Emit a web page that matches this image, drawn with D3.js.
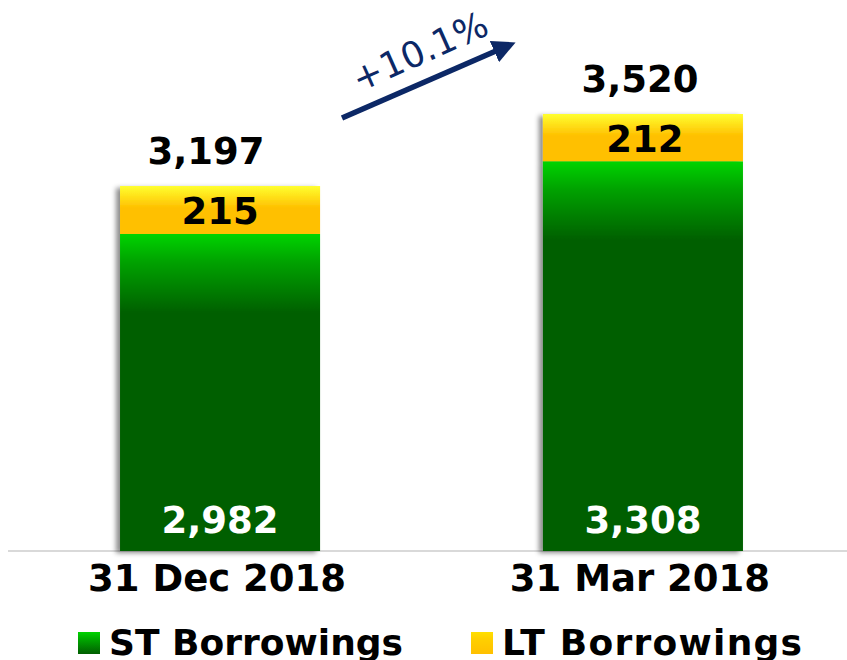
<!DOCTYPE html>
<html><head><meta charset="utf-8">
<script src="https://cdn.jsdelivr.net/npm/d3@7"></script>
<style>body{margin:0;background:#fff}svg{display:block}</style>
</head><body>
<script>
const categories = ["31 Dec 2018", "31 Mar 2018"];
const stValues = [2982, 3308];
const ltValues = [215, 212];
const totals = [3197, 3520];
const seriesNames = ["ST Borrowings", "LT Borrowings"];
const growthLabel = "+10.1%";

const W = 847, H = 660;
const font = "'DejaVu Sans', Verdana, sans-serif";
const svg = d3.select("body").append("svg").attr("width", W).attr("height", H);
const defs = svg.append("defs");

const x = d3.scaleBand().domain(categories).range([16, 847]).paddingInner(0.527).paddingOuter(0.246);
const y = d3.scaleLinear().domain([1560, 3520]).range([551, 114]);

const sh = defs.append("filter").attr("id", "sh").attr("x", "-10%").attr("y", "-10%").attr("width", "120%").attr("height", "120%");
sh.append("feDropShadow").attr("dx", -4).attr("dy", 2).attr("stdDeviation", 2.5).attr("flood-color", "#000").attr("flood-opacity", 0.45);

function greenGrad(id, y0) {
  const g = defs.append("linearGradient").attr("id", id).attr("gradientUnits", "userSpaceOnUse")
    .attr("x1", 0).attr("x2", 0).attr("y1", y0).attr("y2", y0 + 80);
  g.append("stop").attr("offset", 0).attr("stop-color", "#00d400");
  g.append("stop").attr("offset", 0.35).attr("stop-color", "#00a200");
  g.append("stop").attr("offset", 1).attr("stop-color", "#015e01");
}
function yellowGrad(id, y0) {
  const g = defs.append("linearGradient").attr("id", id).attr("gradientUnits", "userSpaceOnUse")
    .attr("x1", 0).attr("x2", 0).attr("y1", y0).attr("y2", y0 + 22);
  g.append("stop").attr("offset", 0).attr("stop-color", "#ffff30");
  g.append("stop").attr("offset", 1).attr("stop-color", "#ffc000");
}

// axis line
svg.append("line").attr("x1", 8).attr("x2", 847).attr("y1", y.range()[0]).attr("y2", y.range()[0])
  .attr("stroke", "#d9d9d9").attr("stroke-width", 2);

const bars = svg.append("g");
categories.forEach((c, i) => {
  const st = stValues[i], lt = ltValues[i];
  const yst = y(st), ytot = y(st + lt);
  greenGrad("gg" + i, yst);
  yellowGrad("yg" + i, ytot);
  const g = bars.append("g").attr("filter", "url(#sh)");
  g.append("rect").attr("x", x(c)).attr("width", x.bandwidth()).attr("y", yst).attr("height", y.range()[0] - yst)
    .attr("fill", `url(#gg${i})`);
  g.append("rect").attr("x", x(c)).attr("width", x.bandwidth()).attr("y", ytot).attr("height", yst - ytot)
    .attr("fill", `url(#yg${i})`);
});

const fmt = d3.format(",");
const labels = svg.append("g").attr("font-family", font).attr("font-weight", "bold").attr("text-anchor", "middle");
categories.forEach((c, i) => {
  const cx = x(c) + x.bandwidth() / 2;
  const yst = y(stValues[i]), ytot = y(totals[i]);
  labels.append("text").attr("x", cx + (i === 0 ? -14 : -3)).attr("y", ytot - 22).attr("font-size", 37)
    .attr("fill", "#000").text(fmt(totals[i]));
  labels.append("text").attr("x", cx + (i === 0 ? 0 : 2)).attr("y", (yst + ytot) / 2 + 14).attr("font-size", 37)
    .attr("fill", "#000").text(fmt(ltValues[i]));
  labels.append("text").attr("x", cx).attr("y", 533).attr("font-size", 37)
    .attr("fill", "#fff").text(fmt(stValues[i]));
  labels.append("text").attr("x", cx - 3).attr("y", 591).attr("font-size", 37)
    .attr("fill", "#000").text(c);
});

// growth arrow
const navy = "#0c2866";
defs.append("marker").attr("id", "ah").attr("viewBox", "0 0 10 10").attr("refX", 5).attr("refY", 5)
  .attr("markerWidth", 4.2).attr("markerHeight", 4.2).attr("orient", "auto").attr("markerUnits", "strokeWidth")
  .append("path").attr("d", "M0,0 L10,5 L0,10 Z").attr("fill", navy);
svg.append("line").attr("x1", 342).attr("y1", 118).attr("x2", 505).attr("y2", 47)
  .attr("stroke", navy).attr("stroke-width", 5.5).attr("marker-end", "url(#ah)");
svg.append("text").attr("transform", "translate(425,63) rotate(-24)")
  .attr("font-family", font).attr("font-size", 36).attr("fill", navy).attr("text-anchor", "middle")
  .text(growthLabel);

// legend
const legColors = [["#00d400", "#015e01"], ["#ffe000", "#ffc000"]];
const legX = [78, 471];
const legLen = [294, 300];
seriesNames.forEach((n, i) => {
  const lg = defs.append("linearGradient").attr("id", "lg" + i).attr("x1", 0).attr("x2", 0).attr("y1", 0).attr("y2", 1);
  lg.append("stop").attr("offset", 0).attr("stop-color", legColors[i][0]);
  lg.append("stop").attr("offset", i === 0 ? 0.4 : 0.3).attr("stop-color", i === 0 ? "#00a000" : "#ffd000");
  lg.append("stop").attr("offset", 1).attr("stop-color", legColors[i][1]);
  svg.append("rect").attr("x", legX[i]).attr("y", 632).attr("width", 22).attr("height", 22).attr("fill", `url(#lg${i})`);
  svg.append("text").attr("x", legX[i] + 31).attr("y", 655).attr("font-family", font).attr("font-weight", "bold")
    .attr("font-size", 36).attr("fill", "#000").attr("textLength", legLen[i]).attr("lengthAdjust", "spacing").text(n);
});
</script>
</body></html>
